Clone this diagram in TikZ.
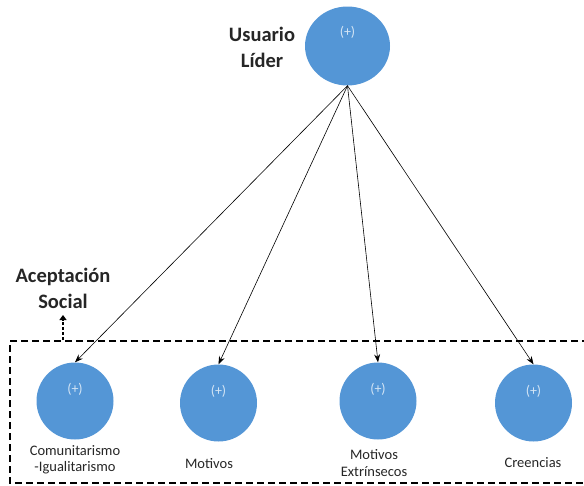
\documentclass[tikz,border=0pt]{standalone}
\usepackage{fontspec}
\setmainfont{Carlito}
\usetikzlibrary{arrows.meta,shapes.geometric}
\definecolor{nodeblue}{RGB}{84,150,214}
\begin{document}
\begin{tikzpicture}[x=1pt,y=-1pt,
  factor/.style={ellipse, fill=nodeblue, minimum width=77pt, minimum height=77pt, inner sep=0pt},
  plus/.style={text=white!75!nodeblue, font=\fontsize{14}{16}\selectfont, inner sep=0pt},
  lbl/.style={align=center, font=\fontsize{14.5}{16.5}\selectfont, inner sep=0pt, text=black!85},
  head/.style={align=center, font=\bfseries\fontsize{20.5}{26}\selectfont, inner sep=0pt, text=black!85},
  link/.style={-{Stealth[length=8pt,width=6pt]}, line width=0.6pt},
  frame/.style={line width=2pt, dash pattern=on 7pt off 4pt},
  social/.style={line width=2.2pt, dash pattern=on 3pt off 2pt, -{Triangle[length=5pt,width=7pt]}}
]
\useasboundingbox (0,0) rectangle (584,485);

% top factor
\node[factor, minimum width=85pt, minimum height=79pt] (top) at (347.5,46) {};
\node[plus] (p0) at (347.5,32) {(+)};
\node[head] (leader) at (262,47) {Usuario\\Líder};

% lower factors
\node[factor] (c1) at (75,401) {};
\node[factor] (c2) at (218.5,403) {};
\node[factor] (c3) at (378,401) {};
\node[factor] (c4) at (533.5,403) {};
\node[plus] (p1) at (75,389) {(+)};
\node[plus] (p2) at (218.5,391) {(+)};
\node[plus] (p3) at (378,389) {(+)};
\node[plus] (p4) at (533.5,391) {(+)};

\node[lbl] (l1) at (75,460) {Comunitarismo\\-Igualitarismo};
\node[lbl] (l2) at (209,464) {Motivos};
\node[lbl] (l3) at (374,463) {Motivos\\Extrínsecos};
\node[lbl] (l4) at (533,463) {Creencias};

% links from the leader
\draw[link] (top.south) -- (c1.north);
\draw[link] (top.south) -- (c2.north);
\draw[link] (top.south) -- (c3.north);
\draw[link] (top.south) -- (c4.north);

% dashed group frame
\begin{scope}
\clip (0,0) rectangle (584,485);
\draw[frame] (600,341) -| (10,483) -- (600,483);
\end{scope}

% social acceptance
\node[head] (acc) at (63,288) {Aceptación\\Social};
\coordinate (accbase) at (63,340);
\coordinate (acctip) at (63,315);
\draw[social] (accbase) -- (acctip);
\end{tikzpicture}
\end{document}
